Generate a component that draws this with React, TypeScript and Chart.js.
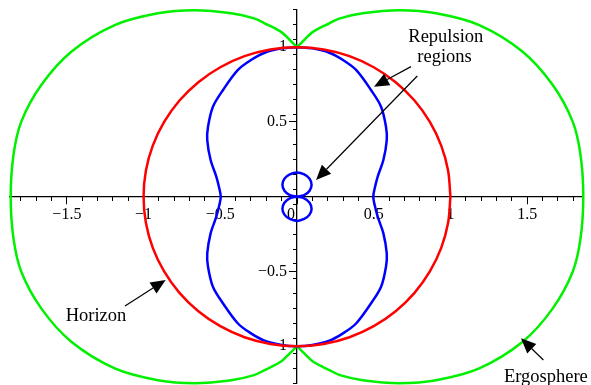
import { useEffect, useRef } from "react";
import { Chart, registerables } from "chart.js";

Chart.register(...registerables);

// Horizon (red)
const horizonX = [1.0, 0.985, 0.94, 0.866, 0.766, 0.643, 0.5, 0.342, 0.174, 0.0, -0.174, -0.342, -0.5, -0.643, -0.766, -0.866, -0.94, -0.985, -1.0, -0.985, -0.94, -0.866, -0.766, -0.643, -0.5, -0.342, -0.174, 0.0, 0.174, 0.342, 0.5, 0.643, 0.766, 0.866, 0.94, 0.985, 1.0];
const horizonY = [0.0, 0.174, 0.342, 0.5, 0.643, 0.766, 0.866, 0.94, 0.985, 1.0, 0.985, 0.94, 0.866, 0.766, 0.643, 0.5, 0.342, 0.174, 0.0, -0.174, -0.342, -0.5, -0.643, -0.766, -0.866, -0.94, -0.985, -1.0, -0.985, -0.94, -0.866, -0.766, -0.643, -0.5, -0.342, -0.174, 0.0];

// Ergosphere (green), right and left lobes
const ergoRightX = [0.0, 0.052, 0.106, 0.211, 0.28, 0.428, 0.667, 0.906, 1.188, 1.471, 1.667, 1.797, 1.848, 1.866, 1.848, 1.797, 1.667, 1.471, 1.188, 0.906, 0.667, 0.428, 0.28, 0.211, 0.106, 0.052, 0.0];
const ergoRightY = [1.0, 1.053, 1.104, 1.16, 1.193, 1.227, 1.247, 1.227, 1.148, 0.97, 0.747, 0.502, 0.279, 0.0, -0.279, -0.502, -0.747, -0.97, -1.148, -1.227, -1.247, -1.227, -1.193, -1.16, -1.104, -1.053, -1.0];
const ergoLeftX = [0.0, -0.052, -0.106, -0.211, -0.28, -0.428, -0.667, -0.906, -1.188, -1.471, -1.667, -1.797, -1.848, -1.866, -1.848, -1.797, -1.667, -1.471, -1.188, -0.906, -0.667, -0.428, -0.28, -0.211, -0.106, -0.052, 0.0];
const ergoLeftY = [1.0, 1.053, 1.104, 1.16, 1.193, 1.227, 1.247, 1.227, 1.148, 0.97, 0.747, 0.502, 0.279, 0.0, -0.279, -0.502, -0.747, -0.97, -1.148, -1.227, -1.247, -1.227, -1.193, -1.16, -1.104, -1.053, -1.0];

// Repulsion boundary (blue peanut)
const peanutX = [0.0, 0.1, 0.211, 0.3, 0.385, 0.482, 0.548, 0.58, 0.585, 0.563, 0.526, 0.504, 0.497, 0.504, 0.526, 0.563, 0.585, 0.58, 0.548, 0.482, 0.385, 0.3, 0.211, 0.1, 0.0, -0.1, -0.211, -0.3, -0.385, -0.482, -0.548, -0.58, -0.585, -0.563, -0.526, -0.504, -0.497, -0.504, -0.526, -0.563, -0.585, -0.58, -0.548, -0.482, -0.385, -0.3, -0.211, -0.1, 0.0];
const peanutY = [1.0, 0.992, 0.963, 0.914, 0.848, 0.714, 0.602, 0.468, 0.379, 0.245, 0.134, 0.045, 0.0, -0.045, -0.134, -0.245, -0.379, -0.468, -0.602, -0.714, -0.848, -0.914, -0.963, -0.992, -1.0, -0.992, -0.963, -0.914, -0.848, -0.714, -0.602, -0.468, -0.379, -0.245, -0.134, -0.045, 0.0, 0.045, 0.134, 0.245, 0.379, 0.468, 0.602, 0.714, 0.848, 0.914, 0.963, 0.992, 1.0];

// Small repulsion lobes (blue)
const lobeUpX = [0.0, 0.047, 0.082, 0.095, 0.082, 0.047, 0.0, -0.047, -0.082, -0.095, -0.082, -0.047, 0.0];
const lobeUpY = [0.0, 0.011, 0.04, 0.08, 0.12, 0.149, 0.162, 0.149, 0.12, 0.08, 0.04, 0.011, 0.0];
const lobeDownX = [0.0, 0.047, 0.082, 0.095, 0.082, 0.047, 0.0, -0.047, -0.082, -0.095, -0.082, -0.047, 0.0];
const lobeDownY = [0.0, -0.011, -0.04, -0.08, -0.12, -0.149, -0.162, -0.149, -0.12, -0.08, -0.04, -0.011, 0.0];

// Axis ticks
const xMajorTicks = [-1.5, -1, -0.5, 0, 0.5, 1, 1.5];
const xMajorLabels = ["\u22121.5", "\u22121", "\u22120.5", "0   ", "0.5", "1", "1.5"];
const yMajorTicks = [-1, -0.5, 0.5, 1];
const yMajorLabels = ["\u22121", "\u22120.5", "0.5", "1"];
const yLabelOffset = -0.065; // label column sits left of the y axis

// Annotations (data coordinates)
const noteTexts = ["Repulsion", "regions", "Horizon", "Ergosphere"];
const noteX = [0.97, 0.962, -1.31, 1.622];
const noteY = [1.037, 0.899, -0.829, -1.237];
const arrowFromX = [0.743, 0.784, -1.121, 1.606];
const arrowFromY = [0.87, 0.807, -0.731, -1.092];
const arrowToX = [0.502, 0.124, -0.856, 1.46];
const arrowToY = [0.736, 0.112, -0.557, -0.947];

const pts = (xs: number[], ys: number[]) => xs.map((x, i) => ({ x, y: ys[i] }));

const SERIF = "'Liberation Serif', 'Times New Roman', serif";

function drawArrow(ctx: CanvasRenderingContext2D, x0: number, y0: number, x1: number, y1: number) {
  const ang = Math.atan2(y1 - y0, x1 - x0);
  const L = 15;
  const W = 6.5;
  const bx = x1 - L * Math.cos(ang);
  const by = y1 - L * Math.sin(ang);
  ctx.lineWidth = 1.2;
  ctx.beginPath();
  ctx.moveTo(x0, y0);
  ctx.lineTo(bx, by);
  ctx.stroke();
  ctx.beginPath();
  ctx.moveTo(x1, y1);
  ctx.lineTo(bx + W * Math.sin(ang), by - W * Math.cos(ang));
  ctx.lineTo(bx - W * Math.sin(ang), by + W * Math.cos(ang));
  ctx.closePath();
  ctx.fill();
}

const annotationPlugin = {
  id: "annotations",
  afterDatasetsDraw(chart: any) {
    const ctx: CanvasRenderingContext2D = chart.ctx;
    const xs = chart.scales.x;
    const ys = chart.scales.y;
    ctx.save();
    ctx.fillStyle = "#000";
    ctx.strokeStyle = "#000";
    ctx.font = `18.5px ${SERIF}`;
    ctx.textAlign = "center";
    ctx.textBaseline = "alphabetic";
    noteTexts.forEach((t, i) => {
      ctx.fillText(t, xs.getPixelForValue(noteX[i]), ys.getPixelForValue(noteY[i]));
    });
    arrowFromX.forEach((_, i) => {
      drawArrow(
        ctx,
        xs.getPixelForValue(arrowFromX[i]),
        ys.getPixelForValue(arrowFromY[i]),
        xs.getPixelForValue(arrowToX[i]),
        ys.getPixelForValue(arrowToY[i])
      );
    });
    ctx.restore();
  },
};

const zeroPad = (s: any) => {
  s.paddingLeft = 0;
  s.paddingRight = 0;
  s.paddingTop = 0;
  s.paddingBottom = 0;
};

export default function App() {
  const ref = useRef<HTMLCanvasElement>(null);

  useEffect(() => {
    const tickFont = { family: SERIF, size: 16 };
    const line = (data: any, color: string, order: number) => ({
      data,
      showLine: true,
      borderColor: color,
      backgroundColor: color,
      borderWidth: 2.5,
      pointRadius: 0,
      pointHoverRadius: 0,
      tension: 0.33,
      cubicInterpolationMode: "default",
      fill: false,
      clip: false as any,
      order,
    });
    const chart = new Chart(ref.current!, {
      type: "scatter",
      data: {
        datasets: [
          line(pts(horizonX, horizonY), "#ff0000", 1),
          line(pts(peanutX, peanutY), "#0000ff", 2),
          line(pts(lobeUpX, lobeUpY), "#0000ff", 2),
          line(pts(lobeDownX, lobeDownY), "#0000ff", 2),
          line(pts(ergoRightX, ergoRightY), "#00f000", 3),
          line(pts(ergoLeftX, ergoLeftY), "#00f000", 3),
        ] as any,
      },
      options: {
        responsive: false,
        animation: false,
        devicePixelRatio: 1,
        events: [],
        elements: { line: { tension: 0.33, capBezierPoints: false } as any, point: { radius: 0 } },
        layout: { padding: { left: 10.1, right: 7.1, top: 9.8, bottom: 1.4 } },
        plugins: { legend: { display: false }, tooltip: { enabled: false } },
        scales: {
          x: {
            type: "linear",
            min: -1.87,
            max: 1.87,
            position: { y: 0 } as any,
            ticks: { display: false, stepSize: 0.1, includeBounds: false } as any,
            grid: { drawOnChartArea: false, drawTicks: true, tickLength: 4, tickColor: "#000", tickWidth: 1 },
            border: { display: false },
            afterFit: zeroPad,
          },
          xMajor: {
            type: "linear",
            axis: "x",
            min: -1.87,
            max: 1.87,
            position: { y: 0 } as any,
            afterBuildTicks: (s: any) => {
              s.ticks = xMajorTicks.map((v) => ({ value: v }));
            },
            ticks: {
              callback: (_v: any, i: number) => xMajorLabels[i],
              font: tickFont,
              color: "#000",
              padding: 1.5,
              autoSkip: false,
              maxRotation: 0,
              minRotation: 0,
            },
            grid: { drawOnChartArea: false, drawTicks: true, tickLength: 7, tickColor: "#000", tickWidth: 1 },
            border: { display: true, color: "#000", width: 1.3 },
            afterFit: zeroPad,
          } as any,
          y: {
            type: "linear",
            min: -1.25,
            max: 1.25,
            position: { x: 0 } as any,
            ticks: { display: false, stepSize: 0.1, includeBounds: false } as any,
            grid: { drawOnChartArea: false, drawTicks: true, tickLength: 4, tickColor: "#000", tickWidth: 1 },
            border: { display: false },
            afterFit: zeroPad,
          },
          yMajor: {
            type: "linear",
            axis: "y",
            min: -1.25,
            max: 1.25,
            position: { x: 0 } as any,
            afterBuildTicks: (s: any) => {
              s.ticks = yMajorTicks.map((v) => ({ value: v }));
            },
            ticks: { display: false },
            grid: { drawOnChartArea: false, drawTicks: true, tickLength: 7, tickColor: "#000", tickWidth: 1 },
            border: { display: true, color: "#000", width: 1.3 },
            afterFit: zeroPad,
          } as any,
          yLabels: {
            type: "linear",
            axis: "y",
            min: -1.25,
            max: 1.25,
            position: { x: yLabelOffset } as any,
            afterBuildTicks: (s: any) => {
              s.ticks = yMajorTicks.map((v) => ({ value: v }));
            },
            ticks: {
              callback: (_v: any, i: number) => yMajorLabels[i],
              font: tickFont,
              color: "#000",
              padding: 0,
              autoSkip: false,
            },
            grid: { display: false, drawTicks: false },
            border: { display: false },
            afterFit: zeroPad,
          } as any,
        },
      },
      plugins: [annotationPlugin],
    });
    return () => chart.destroy();
  }, []);

  return (
    <div style={{ position: "absolute", left: 0, top: 0, width: 591, height: 385, background: "#fff" }}>
      <canvas ref={ref} width={591} height={385} style={{ display: "block" }} />
    </div>
  );
}
